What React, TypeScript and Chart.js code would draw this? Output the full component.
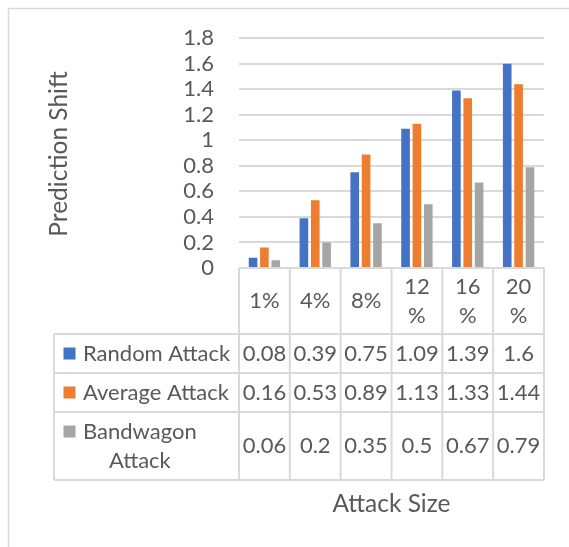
import { useEffect, useRef } from 'react';
import { Chart, registerables } from 'chart.js';

Chart.register(...registerables);

const categories = ['1%', '4%', '8%', '12%', '16%', '20%'];
const randomAttack = [0.08, 0.39, 0.75, 1.09, 1.39, 1.6];
const averageAttack = [0.16, 0.53, 0.89, 1.13, 1.33, 1.44];
const bandwagonAttack = [0.06, 0.2, 0.35, 0.5, 0.67, 0.79];
const seriesNames = ['Random Attack', 'Average Attack', 'Bandwagon Attack'];
const seriesColors = ['#4472C4', '#ED7D31', '#A5A5A5'];
const tickLabels = ['0', '0.2', '0.4', '0.6', '0.8', '1', '1.2', '1.4', '1.6', '1.8'];
const yAxisTitle = 'Prediction Shift';
const xAxisTitle = 'Attack Size';

const TEXT = '#595959';
const LINE = '#d9d9d9';
const FONT = 'Lato';
const TABLE_FONT = 22;
const TITLE_FONT = 24.5;
const LINE_H = 29;

function wrapWords(ctx: CanvasRenderingContext2D, text: string, maxW: number): string[] {
  const words = text.split(' ');
  const lines: string[] = [];
  let cur = '';
  for (const w of words) {
    const test = cur ? cur + ' ' + w : w;
    if (ctx.measureText(test).width <= maxW || !cur) cur = test;
    else {
      lines.push(cur);
      cur = w;
    }
  }
  if (cur) lines.push(cur);
  return lines;
}

function wrapChars(ctx: CanvasRenderingContext2D, text: string, maxW: number): string[] {
  if (ctx.measureText(text).width <= maxW) return [text];
  const lines: string[] = [];
  let cur = '';
  for (const ch of text) {
    const test = cur + ch;
    if (ctx.measureText(test).width <= maxW || !cur) cur = test;
    else {
      lines.push(cur);
      cur = ch;
    }
  }
  if (cur) lines.push(cur);
  return lines;
}

const tablePlugin = {
  id: 'excelTable',
  afterDraw(chart: any) {
    const ctx: CanvasRenderingContext2D = chart.ctx;
    const area = chart.chartArea;
    const xs = chart.scales.x;
    const n = categories.length;
    const colW = (area.right - area.left) / n;
    const legendLeft = 54;
    const data = [randomAttack, averageAttack, bandwagonAttack];

    ctx.save();
    // outer frame
    ctx.strokeStyle = LINE;
    ctx.lineWidth = 1.5;
    ctx.strokeRect(8.5, 8.5, 700, 700);

    ctx.font = `${TABLE_FONT}px ${FONT}`;
    ctx.fillStyle = TEXT;
    ctx.textBaseline = 'middle';

    // header
    const headerTop = area.bottom;
    const headerLines = categories.map((c) => wrapChars(ctx, c, colW - 10));
    const maxHeaderLines = Math.max(...headerLines.map((l) => l.length));
    const headerBottom = headerTop + 8 + maxHeaderLines * LINE_H;
    const headerMid = (headerTop + headerBottom) / 2;
    ctx.textAlign = 'center';
    headerLines.forEach((lines, i) => {
      const cx = xs.getPixelForValue(i);
      const start = headerMid - ((lines.length - 1) * LINE_H) / 2;
      lines.forEach((ln, k) => ctx.fillText(ln, cx, start + k * LINE_H));
    });

    // rows
    const textLeft = 83;
    const textMax = area.left - textLeft - 4;
    let y = headerBottom;
    const rowEdges: number[] = [headerBottom];
    seriesNames.forEach((name, s) => {
      const lines = wrapWords(ctx, name, textMax);
      const h = 10 + lines.length * LINE_H;
      const mid = y + h / 2;
      const start = mid - ((lines.length - 1) * LINE_H) / 2;
      const blockW = Math.max(...lines.map((l) => ctx.measureText(l).width));
      ctx.fillStyle = seriesColors[s];
      ctx.fillRect(63.5, start - 6, 12, 12);
      ctx.fillStyle = TEXT;
      ctx.textAlign = 'center';
      lines.forEach((ln, k) => ctx.fillText(ln, textLeft + blockW / 2, start + k * LINE_H));
      data[s].forEach((v, i) => {
        ctx.fillText(String(v), xs.getPixelForValue(i), mid);
      });
      y += h;
      rowEdges.push(y);
    });
    const tableBottom = y;

    // grid lines
    ctx.strokeStyle = LINE;
    ctx.lineWidth = 2;
    ctx.beginPath();
    ctx.moveTo(area.left, headerTop);
    ctx.lineTo(area.right, headerTop);
    rowEdges.forEach((ry) => {
      ctx.moveTo(legendLeft, ry);
      ctx.lineTo(area.right, ry);
    });
    for (let i = 0; i <= n; i++) {
      const bx = area.left + i * colW;
      ctx.moveTo(bx, headerTop);
      ctx.lineTo(bx, tableBottom);
    }
    ctx.moveTo(legendLeft, headerBottom);
    ctx.lineTo(legendLeft, tableBottom);
    ctx.stroke();

    // axis titles
    ctx.fillStyle = TEXT;
    ctx.font = `${TITLE_FONT}px ${FONT}`;
    ctx.textAlign = 'center';
    ctx.fillText(xAxisTitle, (area.left + area.right) / 2, 504);
    ctx.translate(59, 154);
    ctx.rotate(-Math.PI / 2);
    ctx.fillText(yAxisTitle, 0, 0);
    ctx.restore();
  },
};

export default function App() {
  const ref = useRef<HTMLCanvasElement | null>(null);
  useEffect(() => {
    if (!ref.current) return;
    const chart = new Chart(ref.current, {
      type: 'bar',
      data: {
        labels: categories,
        datasets: [
          { label: seriesNames[0], data: randomAttack, backgroundColor: seriesColors[0] },
          { label: seriesNames[1], data: averageAttack, backgroundColor: seriesColors[1] },
          { label: seriesNames[2], data: bandwagonAttack, backgroundColor: seriesColors[2] },
        ],
      },
      options: {
        animation: false,
        responsive: false,
        layout: { padding: { left: 0, right: 25, top: 37, bottom: 279 } },
        datasets: { bar: { categoryPercentage: 0.67, barPercentage: 0.76 } },
        plugins: { legend: { display: false }, tooltip: { enabled: false } },
        scales: {
          x: { display: false },
          y: {
            min: 0,
            max: 1.8,
            ticks: {
              stepSize: 0.2,
              autoSkip: false,
              padding: 25,
              color: TEXT,
              font: { family: FONT, size: TABLE_FONT },
              callback: (_v: any, i: number) => tickLabels[i],
            },
            grid: { color: LINE, lineWidth: 2, drawTicks: false },
            border: { display: false },
            afterFit: (s: any) => {
              s.width = 239;
            },
          },
        },
      },
      plugins: [tablePlugin],
    });
    return () => chart.destroy();
  }, []);
  return (
    <div style={{ position: 'absolute', left: 0, top: 0, width: 569, height: 547 }}>
      <canvas ref={ref} width={569} height={547} />
    </div>
  );
}
